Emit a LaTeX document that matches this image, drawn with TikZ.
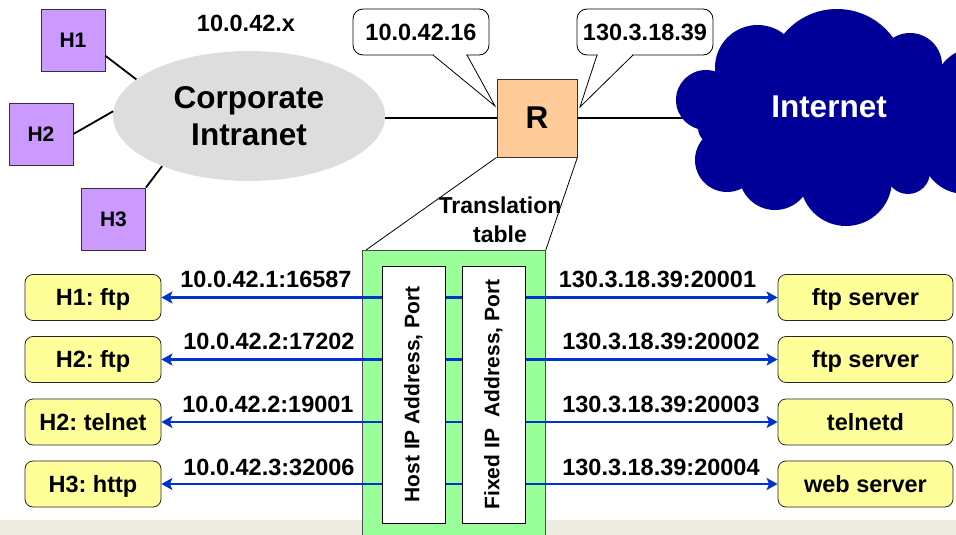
\documentclass[tikz,border=0pt]{standalone}
\usepackage{fontspec}
\setmainfont{Liberation Sans}
\usetikzlibrary{arrows.meta,shapes.geometric}
\definecolor{hostpurple}{HTML}{CC99FF}
\definecolor{rpeach}{HTML}{FFCC99}
\definecolor{appyellow}{HTML}{FFFF99}
\definecolor{tablegreen}{HTML}{99FF99}
\definecolor{netblue}{HTML}{000099}
\definecolor{arrowblue}{HTML}{0033CC}
\definecolor{intragray}{HTML}{DDDDDD}
\definecolor{bandbeige}{HTML}{EEECE1}
\frenchspacing
\begin{document}
\begin{tikzpicture}[x=1pt,y=-1pt,
  host/.style={draw=black!80, fill=hostpurple, line width=0.8pt, minimum width=64pt, minimum height=62pt, inner sep=0pt, text height=15pt, text depth=0pt, font=\fontsize{21}{25}\selectfont\bfseries},
  app/.style={draw=black!85, fill=appyellow, rounded corners=8pt, line width=0.8pt, minimum height=46pt, inner sep=0pt, text height=16.8pt, text depth=0pt, font=\fontsize{23.5}{28}\selectfont\bfseries},
  lbl/.style={inner sep=0pt, text height=16.8pt, text depth=0pt, font=\fontsize{23.5}{28}\selectfont\bfseries},
  callbox/.style={draw, fill=white, rounded corners=10pt, line width=0.8pt, minimum width=136pt, minimum height=46pt, inner sep=0pt, font=\fontsize{23.5}{28}\selectfont\bfseries},
  link/.style={line width=1.8pt},
  thin/.style={line width=0.8pt},
  lobe/.style={fill=netblue},
  flow/.style={arrowblue, line width=2.6pt, -{Stealth[length=11pt,width=12pt,inset=2.5pt]}},
  colbox/.style={draw, fill=white, line width=0.8pt, minimum width=257pt, minimum height=63pt, inner sep=0pt, rotate=90, font=\fontsize{21}{25}\selectfont\bfseries}
]
\useasboundingbox (0,0) rectangle (956,535);
% bottom band
\fill[bandbeige] (0,520) rectangle (956,535);

% intranet
\node[ellipse, fill=intragray, minimum width=272pt, minimum height=130pt, inner sep=0pt, align=center, font=\fontsize{31.5}{37}\selectfont\bfseries] (intranet) at (249,116) {Corporate\\Intranet};
\node[lbl] (subnet) at (246,23.5) {10.0.42.x};

% hosts
\node[host] (H1) at (73,40) {H1};
\node[host] (H2) at (41,134) {H2};
\node[host] (H3) at (113.5,219) {H3};
\draw[link] (H1.-26.6) -- (intranet.162);
\draw[link] (H2.east) -- (intranet.178);
\draw[link] (H3.north east) -- (intranet.210);

% router
\node[draw=black!80, fill=rpeach, thin, minimum width=80pt, minimum height=78pt, inner sep=0pt, font=\fontsize{31.5}{37}\selectfont\bfseries] (R) at (537,118) {R};
\coordinate (cloudc) at (828,118);
\draw[link] (intranet.east |- R.west) -- (R.west);
\draw[link] (R.east) -- (cloudc);

% callouts
\node[callbox] (callA) at (421,32) {\raisebox{-2.5pt}{10.0.42.16}};
\fill[white] (434,53) rectangle (466,57);
\draw[thin] (433,55) -- (495,106) -- (467,55);
\node[callbox] (callB) at (645,32) {\raisebox{-2.5pt}{130.3.18.39}};
\fill[white] (598,53) rectangle (632,57);
\draw[thin] (597,55) -- (580,107) -- (633,55);

% cloud
\begin{scope}
\clip (0,0) rectangle (956,535);
\fill[lobe] (830,120) ellipse [x radius=105pt, y radius=65pt];
\fill[lobe] (910,120) circle [radius=36pt];
\fill[lobe] (837,78) circle [radius=69pt];
\fill[lobe] (757.6,67.6) circle [radius=42.6pt];
\fill[lobe] (910,65) circle [radius=32pt];
\fill[lobe] (706,100) circle [radius=30pt];
\fill[lobe] (714,128) circle [radius=16pt];
\fill[lobe] (975,89) circle [radius=41pt];
\fill[lobe] (965,150) circle [radius=44pt];
\fill[lobe] (727,160) circle [radius=32pt];
\fill[lobe] (775,174) circle [radius=36pt];
\fill[lobe] (846,180) circle [radius=46pt];
\fill[lobe] (908,172) circle [radius=22pt];
\fill[lobe] (900,72) rectangle (941,165);
\end{scope}
\node[text=white, inner sep=0pt, font=\fontsize{31.5}{37}\selectfont\bfseries] (inet) at (829,107) {Internet};

% translation table
\node[draw=black!70, fill=tablegreen, thin, minimum width=183pt, minimum height=310pt, inner sep=0pt, anchor=north west] (table) at (362,250) {};
\draw[thin] (R.south west) -- ([xshift=4pt]table.north west);
\draw[thin] (R.south east) -- (table.north east);
\node[inner sep=0pt, align=center, font=\fontsize{23}{29}\selectfont\bfseries] (ttl) at (500,219.7) {Translation\\table};

% rows
\coordinate (m1) at (453.5,297.5);
\coordinate (m2) at (453.5,359.5);
\coordinate (m3) at (453.5,422);
\coordinate (m4) at (453.5,484);

\node[app, minimum width=136pt] (a1) at (93,297.5) {H1: ftp};
\node[app, minimum width=136pt] (a2) at (93,359.5) {H2: ftp};
\node[app, minimum width=136pt] (a3) at (93,422) {H2: telnet};
\node[app, minimum width=136pt] (a4) at (93,484) {H3: http};
\node[app, minimum width=175pt] (s1) at (865.5,297.5) {ftp server};
\node[app, minimum width=175pt] (s2) at (865.5,359.5) {ftp server};
\node[app, minimum width=175pt] (s3) at (865.5,422) {telnetd};
\node[app, minimum width=175pt] (s4) at (865.5,484) {web server};

\foreach \i in {1,2,3,4}{
  \draw[flow] (m\i) -- (a\i.east);
  \draw[flow] (m\i) -- (s\i.west);
}

\node[colbox] (hostcol) at (413.5,394.5) {Host IP Address, Port};
\node[colbox] (fixcol) at (493.5,394.5) {Fixed IP\ \ Address, Port};

\node[lbl] (l1) at (266,279) {10.0.42.1:16587};
\node[lbl] (l2) at (269,341) {10.0.42.2:17202};
\node[lbl] (l3) at (268,404) {10.0.42.2:19001};
\node[lbl] (l4) at (269,467) {10.0.42.3:32006};
\node[lbl] (r1) at (657.5,279) {130.3.18.39:20001};
\node[lbl] (r2) at (661,341) {130.3.18.39:20002};
\node[lbl] (r3) at (661,404) {130.3.18.39:20003};
\node[lbl] (r4) at (661,467) {130.3.18.39:20004};
\end{tikzpicture}
\end{document}
